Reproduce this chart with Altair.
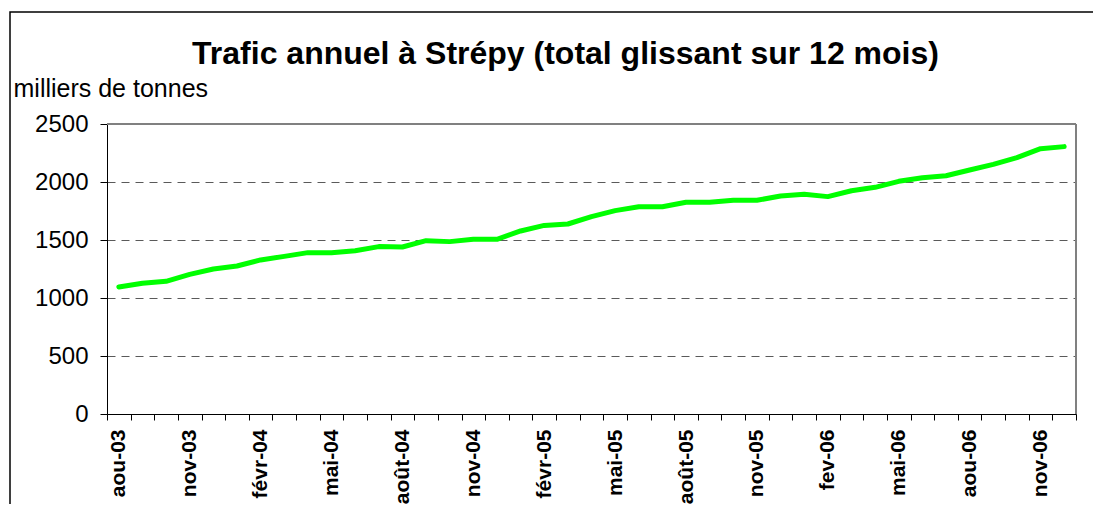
import altair as alt
import pandas as pd

months = ["aou-03", "sept-03", "oct-03", "nov-03", "déc-03",
          "janv-04", "févr-04", "mars-04", "avr-04", "mai-04", "juin-04",
          "juil-04", "août-04", "sept-04", "oct-04", "nov-04", "déc-04",
          "janv-05", "févr-05", "mars-05", "avr-05", "mai-05", "juin-05",
          "juil-05", "août-05", "sept-05", "oct-05", "nov-05", "déc-05",
          "janv-06", "fev-06", "mars-06", "avr-06", "mai-06", "juin-06",
          "juil-06", "aou-06", "sept-06", "oct-06", "nov-06", "déc-06"]

trafic = [1095, 1127, 1144, 1204, 1250, 1276, 1328, 1359, 1391, 1391, 1408,
          1443, 1440, 1494, 1486, 1506, 1506, 1578, 1626, 1638, 1701, 1753,
          1787, 1787, 1825, 1825, 1842, 1842, 1879, 1894, 1874, 1925, 1954,
          2006, 2037, 2054, 2103, 2152, 2210, 2287, 2305]

shown_labels = ["aou-03", "nov-03", "févr-04", "mai-04", "août-04", "nov-04",
                "févr-05", "mai-05", "août-05", "nov-05", "fev-06", "mai-06",
                "aou-06", "nov-06"]

y_ticks = [0, 500, 1000, 1500, 2000, 2500]

df = pd.DataFrame({"mois": months, "trafic": trafic})

FONT = "Arial, Liberation Sans, sans-serif"
label_list = "[" + ",".join("'" + s + "'" for s in shown_labels) + "]"
label_expr = f"indexof({label_list}, datum.value) >= 0 ? datum.value : ''"

W, H = 969, 290

line = alt.Chart(df).mark_line(
    color="#00FF00", strokeWidth=5, strokeCap="round", strokeJoin="round"
).encode(
    x=alt.X(
        "mois:O",
        sort=months,
        bandPosition=0.5,
        scale=alt.Scale(type="band", paddingInner=0, paddingOuter=0),
        axis=alt.Axis(
            title=None,
            labelExpr=label_expr,
            labelAngle=270,
            labelFont=FONT,
            labelFontSize=21,
            labelFontWeight="bold",
            labelColor="black",
            labelPadding=9,
            labelOverlap=False,
            tickBand="extent",
            tickSize=6,
            tickColor="black",
            domainColor="black",
            domainWidth=1,
            grid=False,
        ),
    ),
    y=alt.Y(
        "trafic:Q",
        scale=alt.Scale(domain=[0, 2500], nice=False),
        axis=alt.Axis(
            values=y_ticks,
            format="d",
            title="milliers de tonnes",
            titleAngle=0,
            titleX=-94,
            titleY=-28,
            titleAlign="left",
            titleBaseline="alphabetic",
            titleFont=FONT,
            titleFontSize=25,
            titleFontWeight="normal",
            titleColor="black",
            labelFont=FONT,
            labelFontSize=24,
            labelColor="black",
            labelPadding=12,
            tickSize=7,
            tickColor="black",
            domainColor="black",
            domainWidth=1,
            grid=True,
            gridColor="#5a5a5a",
            gridDash=[8, 6],
            gridWidth=1,
        ),
    ),
)

one_row = alt.Data(values=[{"b": 1}])

border = alt.Chart(one_row).mark_rect(
    filled=False, stroke="black", strokeWidth=1.5
).encode(
    x=alt.value(-97), x2=alt.value(1100), y=alt.value(-112), y2=alt.value(500)
)

frame_top = alt.Chart(one_row).mark_rule(color="#808080", strokeWidth=2).encode(
    x=alt.value(0), x2=alt.value(W), y=alt.value(0)
)
frame_right = alt.Chart(one_row).mark_rule(color="#808080", strokeWidth=2).encode(
    x=alt.value(W), y=alt.value(0), y2=alt.value(H)
)

chart = alt.layer(border, frame_top, frame_right, line).properties(
    width=W,
    height=H,
    title=alt.TitleParams(
        text="Trafic annuel à Strépy (total glissant sur 12 mois)",
        font=FONT,
        fontSize=32,
        fontWeight="bold",
        color="black",
        anchor="middle",
        dx=-26,
        offset=-85,
        baseline="alphabetic",
    ),
    autosize=alt.AutoSizeParams(type="none"),
    padding={"left": 99, "top": 116, "right": 17, "bottom": 90},
).configure_view(
    strokeWidth=0
).configure(background="white")

chart.save("out.html", embed_options={"renderer": "svg", "actions": False})
